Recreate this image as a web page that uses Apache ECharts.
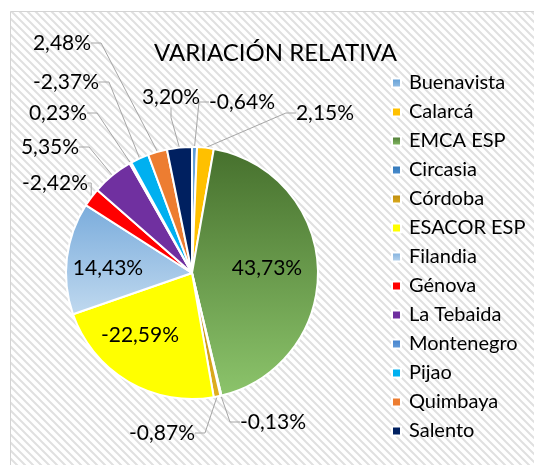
<!DOCTYPE html>
<html>
<head>
<meta charset="utf-8">
<script src="https://cdn.jsdelivr.net/npm/echarts@6/dist/echarts.min.js"></script>
<style>
  html, body { margin: 0; padding: 0; background: #fff; }
  #main { width: 534px; height: 465px; }
</style>
</head>
<body>
<div id="main"></div>
<script>
// data (signed relative variation, %)
const municipios = ['Buenavista', 'Calarcá', 'EMCA ESP', 'Circasia', 'Córdoba', 'ESACOR ESP',
  'Filandia', 'Génova', 'La Tebaida', 'Montenegro', 'Pijao', 'Quimbaya', 'Salento'];
const variacion = [-0.64, 2.15, 43.73, -0.13, -0.87, -22.59, 14.43, -2.42, 5.35, 0.23, -2.37, 2.48, 3.20];

const grad = (a, b) => new echarts.graphic.LinearGradient(0, 0, 0, 1, [
  { offset: 0, color: a }, { offset: 1, color: b }
]);
const colores = [
  grad('#5b9bd5', '#9dc3e6'),
  '#ffc000',
  grad('#46702d', '#8cc46b'),
  grad('#2e75b6', '#4f8fd0'),
  grad('#b8860b', '#e0b020'),
  '#ffff00',
  grad('#7aacdc', '#c0d9ef'),
  '#ff0000',
  '#7030a0',
  grad('#3f7fcc', '#6aa0dc'),
  '#00b0f0',
  '#ed7d31',
  '#002060'
];

// manual label placement, like the hand-dragged labels of the original
const labelPos = {
  0: [242, 102], 1: [325, 113], 2: [267, 268], 3: [273, 422], 4: [162, 433],
  5: [140, 335], 6: [108, 268], 7: [55, 183], 8: [50, 147], 9: [58, 113],
  10: [66, 82], 11: [62, 43], 12: [171, 97]
};
const dentro = [2, 5, 6];

// hatch background
const hatch = document.createElement('canvas');
hatch.width = 8; hatch.height = 8;
const hc = hatch.getContext('2d');
hc.fillStyle = '#ffffff';
hc.fillRect(0, 0, 8, 8);
hc.strokeStyle = '#e0e0e0';
hc.lineWidth = 2;
hc.beginPath();
hc.moveTo(-2, -2); hc.lineTo(10, 10);
hc.moveTo(-2, 6); hc.lineTo(2, 10);
hc.moveTo(6, -2); hc.lineTo(10, 2);
hc.stroke();

const fmt = v => v.toFixed(2).replace('.', ',') + '%';
const FONT = 'Lato';

const chart = echarts.init(document.getElementById('main'), null, { renderer: 'canvas' });
chart.setOption({
  animation: false,
  backgroundColor: '#ffffff',
  graphic: [{
    type: 'rect',
    z: -10,
    shape: { x: 10.5, y: 11.5, width: 560, height: 480 },
    style: { fill: { image: hatch, repeat: 'repeat' }, stroke: '#d4d4d4', lineWidth: 1 }
  }],
  title: {
    text: 'VARIACIÓN RELATIVA',
    left: 149,
    top: 36,
    textStyle: { fontFamily: FONT, fontSize: 24, fontWeight: 'normal', color: '#000' }
  },
  legend: {
    orient: 'vertical',
    left: 386,
    top: 68,
    itemWidth: 9,
    itemHeight: 9,
    itemGap: 9,
    icon: 'rect',
    data: municipios,
    textStyle: { fontFamily: FONT, fontSize: 20, lineHeight: 20, color: '#000', padding: [0, 0, 0, 3] }
  },
  series: [{
    type: 'pie',
    center: [192, 273],
    radius: 126,
    startAngle: 90,
    clockwise: true,
    avoidLabelOverlap: false,
    itemStyle: { borderColor: '#ffffff', borderWidth: 2 },
    label: {
      show: true,
      fontFamily: FONT,
      fontSize: 21,
      color: '#000',
      formatter: p => fmt(variacion[p.dataIndex])
    },
    labelLine: {
      show: true,
      length: 8,
      length2: 10,
      lineStyle: { color: '#a6a6a6', width: 1 }
    },
    labelLayout: p => {
      const pos = labelPos[p.dataIndex];
      return { x: pos[0], y: pos[1], align: 'center', verticalAlign: 'middle' };
    },
    data: municipios.map((name, i) => {
      const item = { name, value: Math.abs(variacion[i]), itemStyle: { color: colores[i] } };
      if (dentro.includes(i)) {
        item.label = { position: 'inside' };
        item.labelLine = { show: false };
      }
      return item;
    })
  }]
});
</script>
</body>
</html>
